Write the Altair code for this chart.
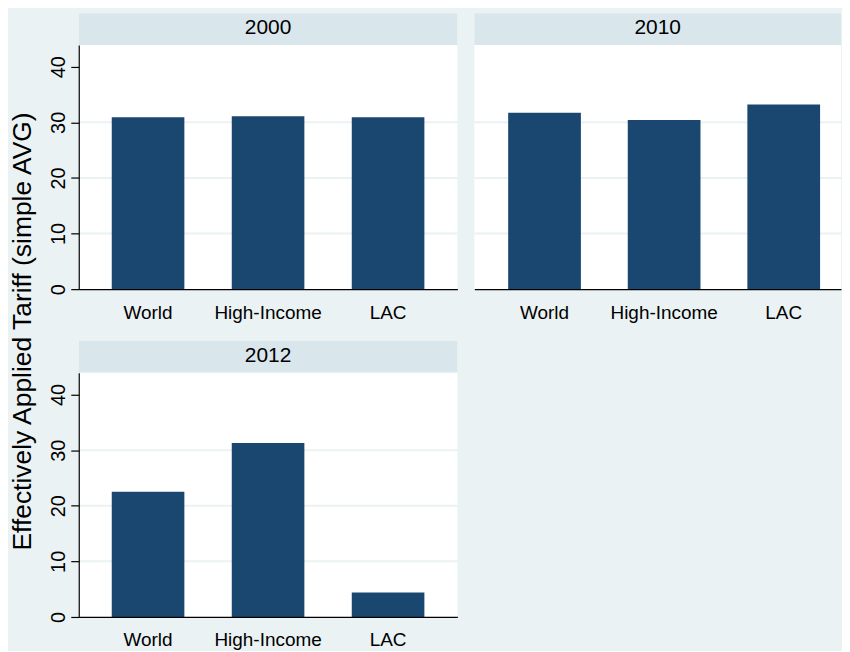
import altair as alt
import pandas as pd

REGIONS = ["World", "High-Income", "LAC"]
YEARS = ["2000", "2010", "2012"]
TARIFF_2000 = [30.9, 31.1, 30.9]
TARIFF_2010 = [31.7, 30.4, 33.2]
TARIFF_2012 = [22.5, 31.3, 4.4]
Y_TICKS = [0, 10, 20, 30, 40]
GRID_VALUES = [10, 20, 30]
Y_MAX = 43.9

FONT = "Liberation Sans"
BAR_COLOR = "#1a476f"
BG_COLOR = "#eaf2f3"
STRIP_COLOR = "#d9e6eb"
GRID_COLOR = "#eaf2f3"
TITLE = "Effectively Applied Tariff (simple AVG)"


def panel(year, values, show_y, width, height, x_scale, strip_h=32):
    df = pd.DataFrame({"region": REGIONS, "value": values})
    grid_df = pd.DataFrame({"grid": GRID_VALUES})
    y_scale = alt.Scale(domain=[0, Y_MAX], nice=False, zero=True)
    if show_y:
        y_axis = alt.Axis(values=Y_TICKS, title=None, grid=False,
                          domain=True, domainColor="black", domainWidth=1.2,
                          ticks=True, tickSize=8, tickColor="black", tickWidth=1.2,
                          labelAngle=270, labelAlign="center", labelBaseline="alphabetic",
                          labelPadding=6, labelFontSize=20, labelColor="black",
                          labelFont=FONT, zindex=1)
        y_grid = alt.Y("grid:Q", scale=y_scale, axis=y_axis)
        y_bar = alt.Y("value:Q", scale=y_scale, axis=y_axis)
    else:
        y_grid = alt.Y("grid:Q", scale=y_scale, axis=None)
        y_bar = alt.Y("value:Q", scale=y_scale, axis=None)

    x = alt.X("region:N", sort=REGIONS, title=None, scale=x_scale,
              axis=alt.Axis(labelAngle=0, ticks=False, tickSize=0,
                            domainColor="black", domainWidth=1.2,
                            labelPadding=14, labelFontSize=19, labelColor="black",
                            labelFont=FONT, grid=False, zindex=1))

    grid = alt.Chart(grid_df).mark_rule(color=GRID_COLOR, strokeWidth=2).encode(y=y_grid)
    bars = alt.Chart(df).mark_bar(color=BAR_COLOR).encode(x=x, y=y_bar)
    plot = alt.layer(grid, bars).properties(width=width, height=height)

    sdf = pd.DataFrame({"year": [year]})
    base = alt.Chart(sdf).encode(
        x=alt.X("year:N", axis=None, scale=alt.Scale(paddingInner=0, paddingOuter=0))
    )
    rect = base.mark_rect(color=STRIP_COLOR)
    text = base.mark_text(fontSize=21, font=FONT, color="black",
                          baseline="middle", dy=-1).encode(text="year:N")
    strip = alt.layer(rect, text).properties(width=width, height=strip_h)

    return alt.vconcat(strip, plot, spacing=0)


full_scale = alt.Scale(paddingInner=0.395, paddingOuter=0.275)
# right panel is cut at the window edge in the original: keep the same band step
cut_scale = alt.Scale(paddingInner=0.392, paddingOuter=0.229, align=0.618)

row1 = alt.hconcat(
    panel(YEARS[0], TARIFF_2000, True, 380, 245, full_scale),
    panel(YEARS[1], TARIFF_2010, False, 368, 245, cut_scale),
    spacing=15,
)
row2 = panel(YEARS[2], TARIFF_2012, True, 380, 245, full_scale)

chart = alt.vconcat(row1, row2, spacing=19).properties(
    title=alt.TitleParams(text=TITLE, orient="left", anchor="middle",
                          fontSize=26.5, font=FONT, fontWeight="normal",
                          color="black", offset=12),
    padding={"left": 2, "top": 4, "right": 0, "bottom": 0},
).configure(
    background=BG_COLOR,
).configure_view(
    fill="white", stroke=None,
)

chart.save("out.html", embed_options={"renderer": "svg", "actions": False})
